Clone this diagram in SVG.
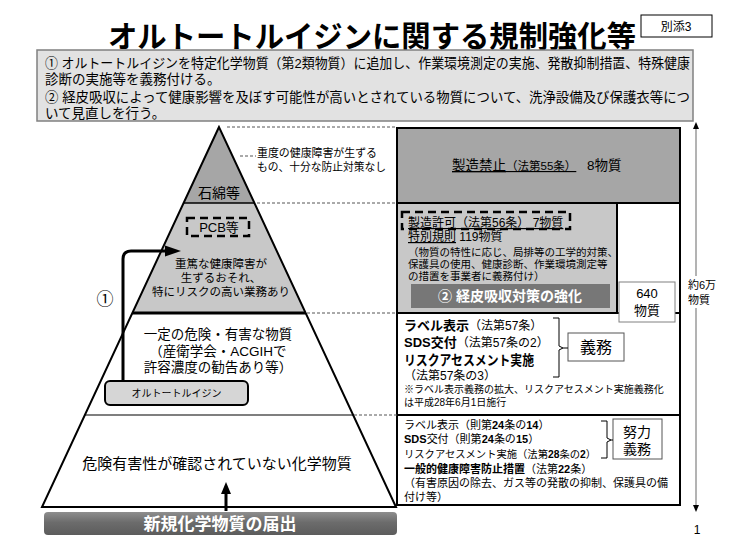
<svg xmlns="http://www.w3.org/2000/svg" width="740" height="551" viewBox="0 0 740 551">
<defs>
<style>
text{font-family:"Liberation Sans","Noto Sans CJK JP",sans-serif;fill:#000}
.b{font-weight:bold}
.w{fill:#fff}
.c{text-anchor:middle}
.dash{stroke:#555;stroke-width:1;stroke-dasharray:3 2;fill:none}
.tdash{fill:none;stroke:#000;stroke-width:2.5;stroke-dasharray:8 5}
.bx{stroke:#000;stroke-width:2}
.ln{fill:none;stroke:#000}
</style>
<linearGradient id="gbar" x1="0" y1="0" x2="0" y2="1">
<stop offset="0" stop-color="#8e8e8e"/><stop offset="0.45" stop-color="#6c6c6c"/><stop offset="1" stop-color="#5c5c5c"/>
</linearGradient>
</defs>
<rect width="740" height="551" fill="#fff"/>

<g id="title">
<text x="108" y="47" font-size="30" class="b" textLength="528" lengthAdjust="spacingAndGlyphs">オルトートルイジンに関する規制強化等</text>
</g>
<g id="annex">
<rect x="641" y="15" width="71" height="22" fill="#fff" stroke="#000" stroke-width="1"/>
<text x="676" y="31" font-size="12" class="c">別添3</text>
</g>

<g id="summary">
<rect x="37" y="50" width="656" height="71" fill="#e2e2e2" stroke="#808080" stroke-width="1.5"/>
<text x="45" y="68" font-size="13.5" textLength="645" lengthAdjust="spacingAndGlyphs">① オルトートルイジンを特定化学物質（第2類物質）に追加し、作業環境測定の実施、発散抑制措置、特殊健康</text>
<text x="45" y="84" font-size="13.5">診断の実施等を義務付ける。</text>
<text x="45" y="102" font-size="13.5" textLength="645" lengthAdjust="spacingAndGlyphs">② 経皮吸収によって健康影響を及ぼす可能性が高いとされている物質について、洗浄設備及び保護衣等につ</text>
<text x="45" y="118" font-size="13.5">いて見直しを行う。</text>
</g>

<g id="pyramid">
<polygon points="219,127 183.6,203 254.4,203" fill="#a6a6a6"/>
<polygon points="183.6,203 254.4,203 305.6,313 132.4,313" fill="#c8c8c8"/>
<polygon points="132.4,313 305.6,313 396,507 42,507" fill="#fff"/>
<line x1="183.6" y1="203" x2="254.4" y2="203" stroke="#000" stroke-width="1.5"/>
<line x1="132.4" y1="313" x2="305.6" y2="313" stroke="#000" stroke-width="3"/>
<line x1="84.8" y1="415" x2="353.2" y2="415" stroke="#555" stroke-width="1.5"/>
<polygon points="219,127 42,507 396,507" fill="none" stroke="#000" stroke-width="2"/>
</g>

<g id="asbestos">
<text x="219" y="198" font-size="14" class="c">石綿等</text>
</g>
<g id="pcb">
<rect x="187" y="218" width="62" height="18" class="tdash"/>
<text x="219" y="232" font-size="13" class="c">PCB等</text>
</g>
<g id="severe">
<text x="221" y="268" font-size="11.5" class="c">重篤な健康障害が</text>
<text x="221" y="282" font-size="11.5" class="c">生ずるおそれ、</text>
<text x="221" y="296" font-size="11.5" class="c">特にリスクの高い業務あり</text>
</g>
<g id="severe-note">
<text x="257" y="157" font-size="11" textLength="120" lengthAdjust="spacingAndGlyphs">重度の健康障害が生ずる</text>
<text x="257" y="171" font-size="11" textLength="129" lengthAdjust="spacingAndGlyphs">もの、十分な防止対策なし</text>
</g>
<g id="hazardous">
<text x="218" y="339" font-size="13.5" class="c">一定の危険・有害な物質</text>
<text x="218" y="356" font-size="13.5" class="c">（産衛学会・ACGIHで</text>
<text x="218" y="372" font-size="13.5" class="c">許容濃度の勧告あり等）</text>
</g>
<g id="orthotoluidine">
<rect x="105" y="381" width="143" height="24" rx="5" fill="#d6d6d6" stroke="#000" stroke-width="2"/>
<text x="176.5" y="397" font-size="10" class="c">オルトートルイジン</text>
</g>
<g id="unconfirmed">
<text x="217" y="469" font-size="15" class="c">危険有害性が確認されていない化学物質</text>
</g>
<g id="new-substance">
<rect x="44" y="512" width="353" height="23" rx="4" fill="url(#gbar)"/>
<text x="220" y="530" font-size="17" class="c b w">新規化学物質の届出</text>
</g>
<g id="label1">
<text x="105" y="305" font-size="17" class="c">①</text>
</g>

<g id="ban">
<rect x="397" y="128" width="283" height="75" fill="#a6a6a6" class="bx"/>
<text x="452" y="170" font-size="13.5" text-decoration="underline">製造禁止<tspan font-size="11.5">（法第55条）</tspan></text>
<text x="587" y="170" font-size="13.5">8物質</text>
</g>
<g id="permit-frame">
<rect x="397" y="203" width="283" height="110" fill="#fff" class="bx"/>
</g>
<g id="permit">
<rect x="397" y="203" width="220" height="110" fill="#c8c8c8" class="bx"/>
<rect x="402" y="212" width="168" height="17" class="tdash"/>
<text x="408" y="227" font-size="12" text-decoration="underline">製造許可（法第56条） 7物質</text>
<text x="408" y="241" font-size="12"><tspan text-decoration="underline">特別規則</tspan> 119物質</text>
<text x="408" y="256" font-size="10.5">（物質の特性に応じ、局排等の工学的対策、</text>
<text x="408" y="268" font-size="10.5">保護具の使用、健康診断、作業環境測定等</text>
<text x="408" y="280" font-size="10.5">の措置を事業者に義務付け）</text>
</g>
<g id="dermal">
<rect x="411" y="284" width="199" height="24" fill="#777"/>
<text x="510" y="301" font-size="14" class="c b w">② 経皮吸収対策の強化</text>
</g>
<g id="obligation">
<rect x="397" y="313" width="283" height="102" fill="#fff" class="bx"/>
<text x="404" y="330" font-size="13"><tspan class="b">ラベル表示</tspan><tspan font-size="12">（法第57条）</tspan></text>
<text x="404" y="347" font-size="13"><tspan class="b">SDS交付</tspan><tspan font-size="12">（法第57条の2）</tspan></text>
<text x="404" y="365" font-size="13.5" class="b" textLength="130" lengthAdjust="spacingAndGlyphs">リスクアセスメント実施</text>
<text x="404" y="380" font-size="12">（法第57条の3）</text>
<text x="404" y="393" font-size="10">※ラベル表示義務の拡大、リスクアセスメント実施義務化</text>
<text x="404" y="406" font-size="10">は平成28年6月1日施行</text>
<rect x="568" y="333" width="56" height="28" fill="#fff" stroke="#555" stroke-width="1"/>
<text x="596" y="353" font-size="16" class="c">義務</text>
</g>
<g id="count640">
<rect x="619" y="282" width="56" height="40" fill="#fff" stroke="#808080" stroke-width="1"/>
<text x="647" y="298" font-size="13" class="c">640</text>
<text x="647" y="315" font-size="13" class="c">物質</text>
</g>
<g id="effort">
<rect x="397" y="415" width="283" height="90" fill="#fff" class="bx"/>
<text x="404" y="429" font-size="11">ラベル表示（則第<tspan class="b">24</tspan>条の<tspan class="b">14</tspan>）</text>
<text x="404" y="443" font-size="11"><tspan class="b">SDS</tspan>交付（則第<tspan class="b">24</tspan>条の<tspan class="b">15</tspan>）</text>
<text x="404" y="458" font-size="10.3">リスクアセスメント実施（法第<tspan class="b">28</tspan>条の<tspan class="b">2</tspan>）</text>
<text x="404" y="473" font-size="11"><tspan class="b">一般的健康障害防止措置</tspan>（法第<tspan class="b">22</tspan>条）</text>
<text x="404" y="487" font-size="11">（有害原因の除去、ガス等の発散の抑制、保護具の備</text>
<text x="404" y="501" font-size="11">付け等）</text>
<rect x="613" y="419" width="49" height="40" fill="#fff" stroke="#555" stroke-width="1"/>
<text x="637" y="437" font-size="14" class="c">努力</text>
<text x="637" y="454" font-size="14" class="c">義務</text>
</g>
<g id="total">
<rect x="684" y="276" width="30" height="32" fill="#fff"/>
<text x="688" y="289" font-size="11">約6万</text>
<text x="688" y="304" font-size="11">物質</text>
</g>
<g id="page">
<text x="697" y="534" font-size="12" class="c">1</text>
</g>

<g id="connectors">
<line x1="227" y1="127" x2="397" y2="127" class="dash"/>
<line x1="257" y1="203" x2="397" y2="203" class="dash"/>
<line x1="307" y1="313" x2="397" y2="313" class="dash"/>
<line x1="354" y1="415" x2="397" y2="415" class="dash"/>
<line x1="240" y1="156" x2="256" y2="156" class="dash"/>
<path d="M123,381 V259 Q123,251 131,251 H168" class="ln" stroke-width="3"/>
<polygon points="165,245.5 181,251 165,256.5" fill="#000"/>
<line x1="226" y1="511" x2="226" y2="492" stroke="#000" stroke-width="3"/>
<polygon points="221,494 226,482 231,494" fill="#000"/>
<line x1="696" y1="128" x2="696" y2="276" stroke="#9a9a9a" stroke-width="1.5"/>
<line x1="696" y1="308" x2="696" y2="506" stroke="#9a9a9a" stroke-width="1.5"/>
<polygon points="693,129 696,122 699,129" fill="#000"/>
<polygon points="693,505 696,512 699,505" fill="#000"/>
<path d="M553,318 H559 V346 L563,348 L559,350 V377 H553" class="ln" stroke-width="1"/>
<line x1="563" y1="348" x2="568" y2="348" stroke="#000" stroke-width="1"/>
<path d="M601,421 H607 V438 L611,440 L607,442 V458 H601" class="ln" stroke-width="1"/>
<line x1="611" y1="440" x2="613" y2="440" stroke="#000" stroke-width="1"/>
</g>
</svg>
